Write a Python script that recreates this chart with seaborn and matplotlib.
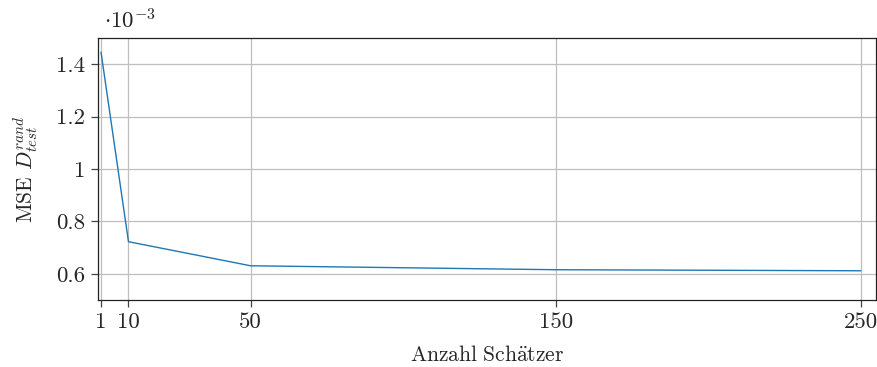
import matplotlib
matplotlib.use("Agg")
import matplotlib.pyplot as plt
import seaborn as sns
import pandas as pd
from matplotlib.ticker import FuncFormatter

n_estimators = [1, 10, 50, 150, 250]
mse_values = [1.446e-3, 0.7225e-3, 0.6306e-3, 0.6155e-3, 0.6115e-3]
x_ticks = [1, 10, 50, 150, 250]
y_ticks = [0.6e-3, 0.8e-3, 1.0e-3, 1.2e-3, 1.4e-3]

sns.set_style("ticks")
plt.rcParams["font.family"] = ["cmr10", "DejaVu Serif"]
plt.rcParams["mathtext.fontset"] = "cm"
plt.rcParams["axes.unicode_minus"] = False

df = pd.DataFrame({"n": n_estimators, "MSE": mse_values})

fig = plt.figure(figsize=(8.77, 3.67), dpi=100)
ax = fig.add_axes([0.1117, 0.1826, 0.8872, 0.7139])
sns.lineplot(data=df, x="n", y="MSE", ax=ax, color="#1f77b4", linewidth=1.0)

ax.set_xlim(0, 255)
ax.set_ylim(0.5e-3, 1.5e-3)
ax.set_xticks(x_ticks)
ax.set_yticks(y_ticks)
ax.yaxis.set_major_formatter(FuncFormatter(lambda v, p: "{:g}".format(round(v / 1e-3, 3))))
ax.grid(True, color="#bfbfbf", linewidth=0.9)
ax.set_axisbelow(True)
for s in ax.spines.values():
    s.set_visible(True)
    s.set_color("#222222")
    s.set_linewidth(0.9)
ax.tick_params(axis="both", direction="out", length=5, width=0.9, color="#444444",
               labelsize=16.5, pad=4)
ax.set_xlabel(r"$\mathrm{Anzahl\ Sch\ddot{a}tzer}$", fontsize=15.5, labelpad=9)
ax.set_ylabel(r"MSE $D_{test}^{rand}$", fontsize=15.5, labelpad=12)
ax.text(0.008, 1.02, r"$\cdot 10^{-3}$", transform=ax.transAxes, fontsize=16.5,
        ha="left", va="bottom")

fig.savefig("out.png", dpi=100)
